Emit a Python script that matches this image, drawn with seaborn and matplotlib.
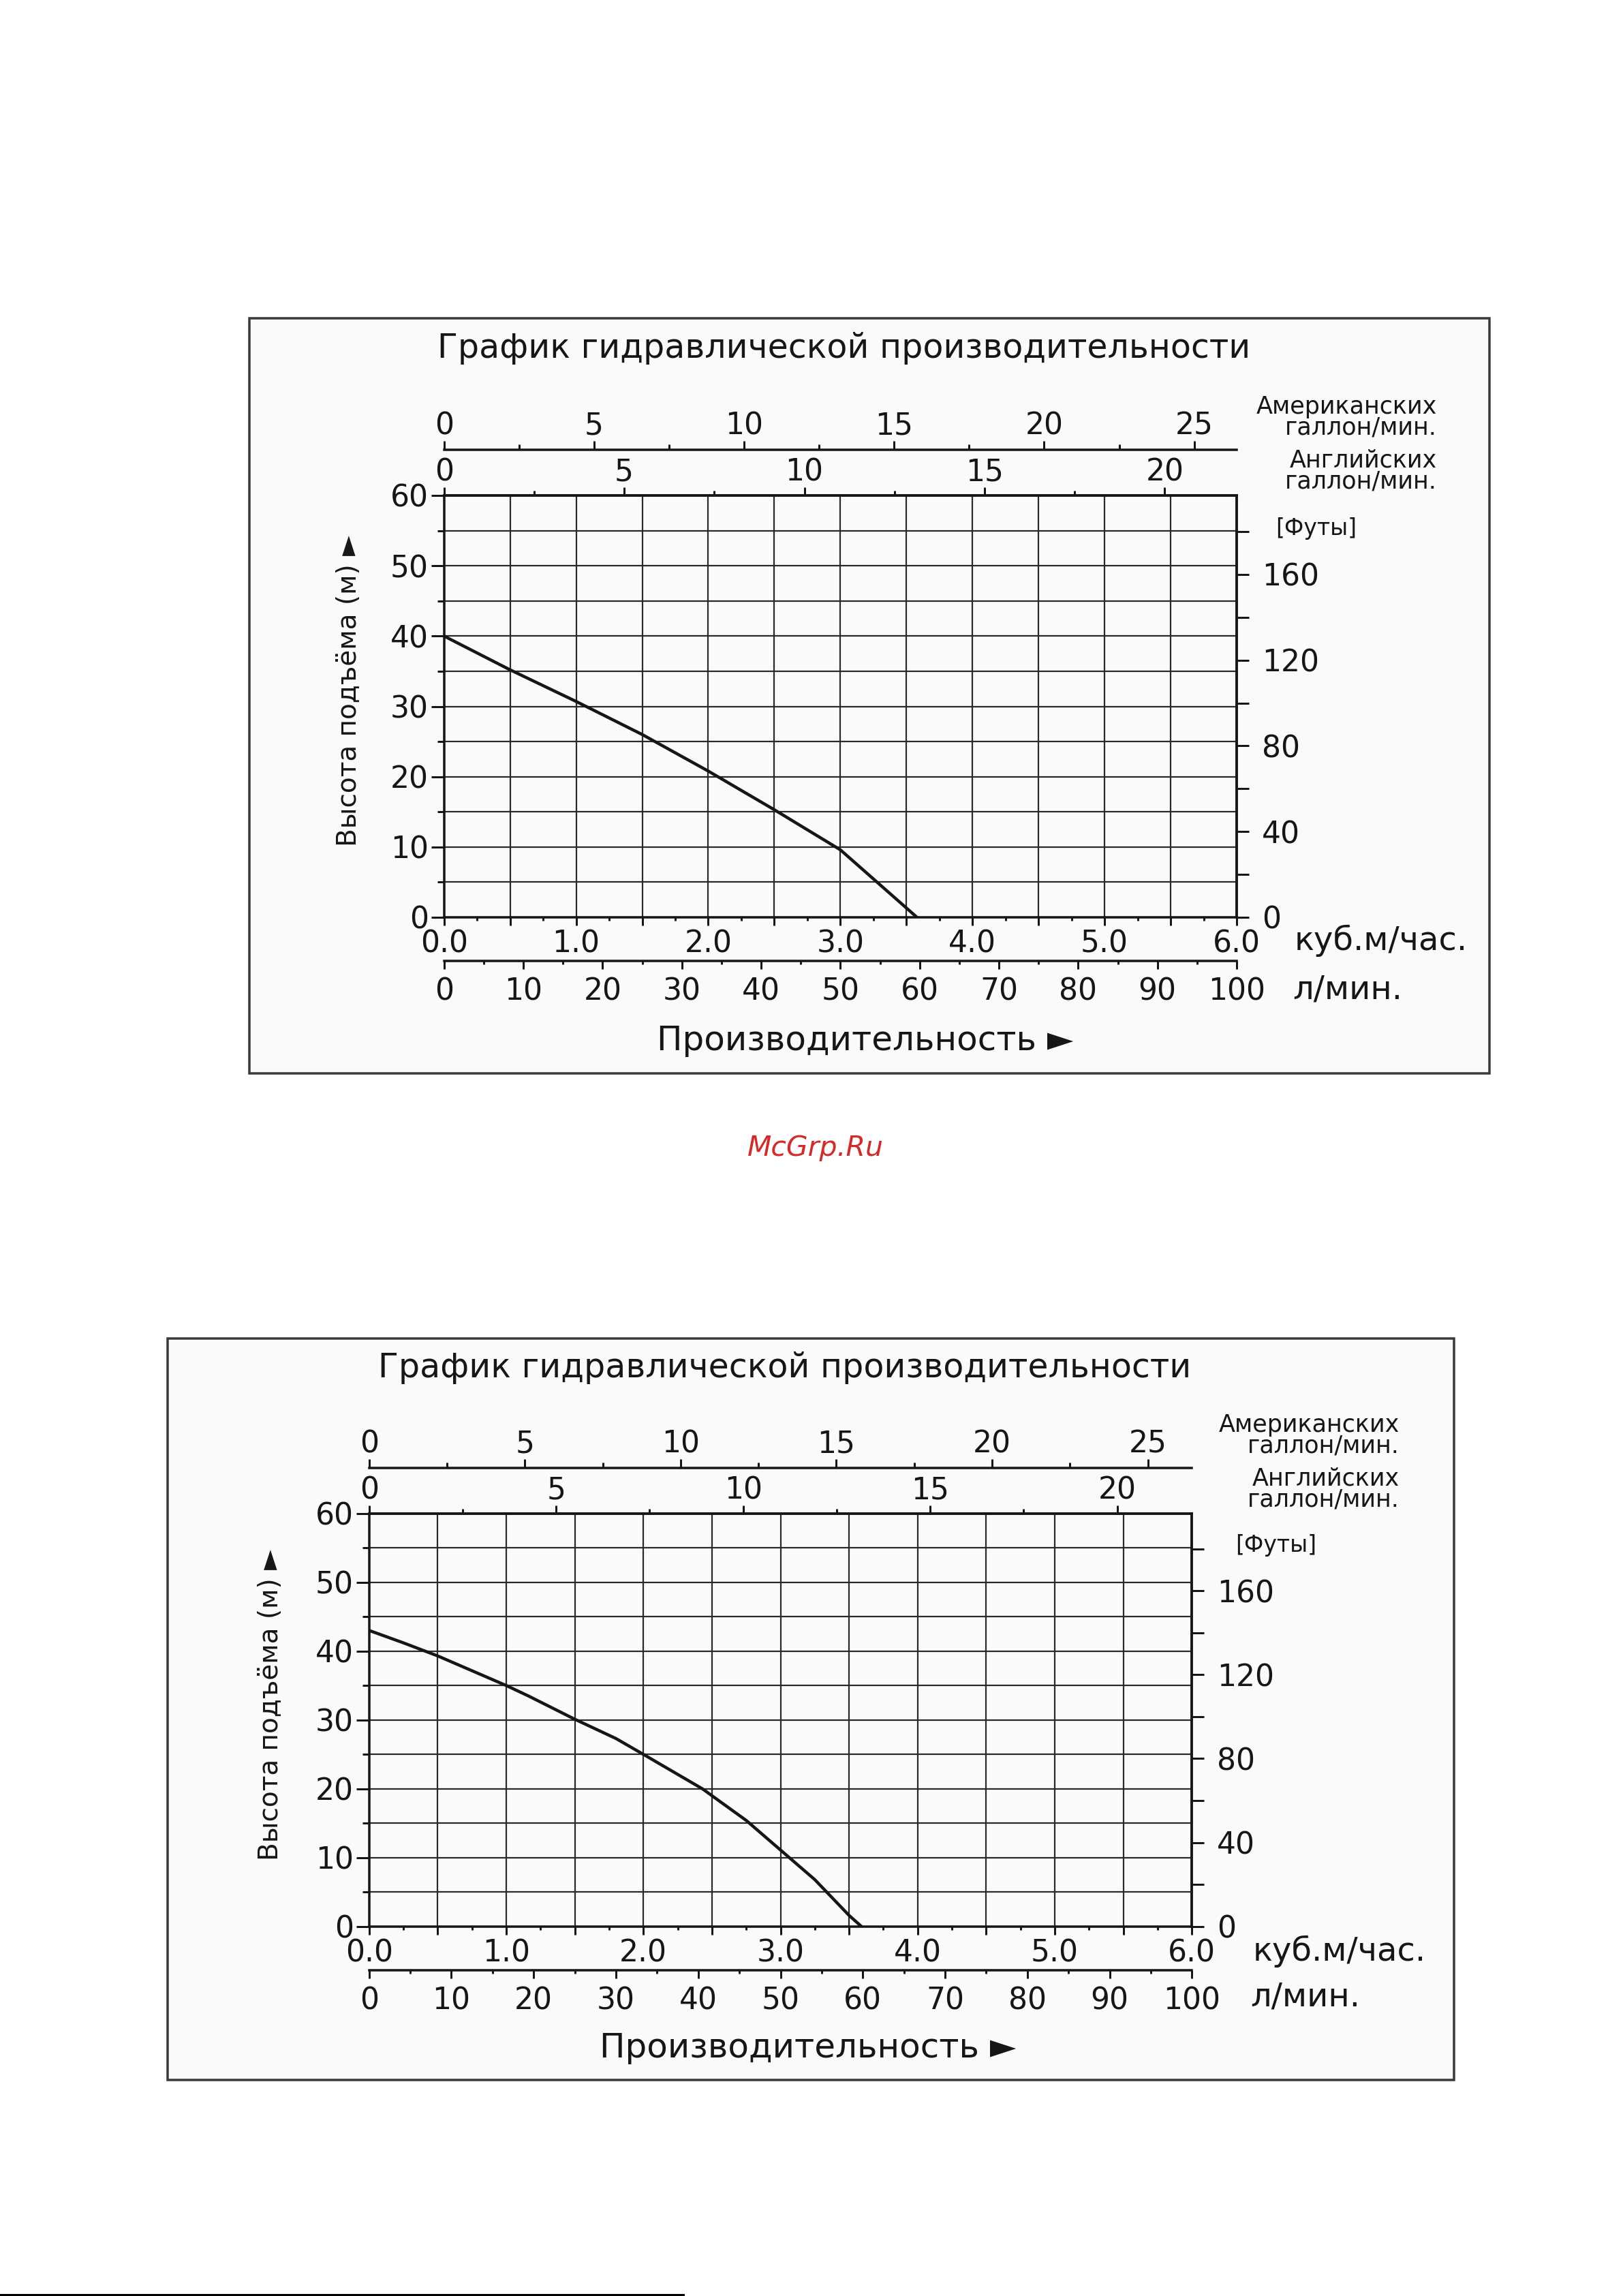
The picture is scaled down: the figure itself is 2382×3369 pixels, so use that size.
import matplotlib
matplotlib.use("Agg")
import matplotlib.pyplot as plt
import matplotlib.ticker as mticker
from matplotlib.patches import Rectangle
from matplotlib.lines import Line2D
import pandas as pd
import seaborn as sns

# --- values (flow in m3/h, head in m) ---
flow_1 = [0.0, 0.5, 1.0, 1.5, 2.0, 2.5, 3.0, 3.58]
head_1 = [40.0, 35.2, 30.7, 26.0, 20.8, 15.3, 9.6, 0.0]

flow_2 = [0.0, 0.25, 0.5, 1.0, 1.16, 1.5, 1.8, 2.0, 2.43, 2.75, 3.0, 3.25, 3.5, 3.59]
head_2 = [43.0, 41.2, 39.3, 35.0, 33.5, 30.1, 27.3, 25.0, 20.0, 15.4, 11.1, 6.8, 1.6, 0.0]

feet_ticks = [0, 20, 40, 60, 80, 100, 120, 140, 160, 180]
feet_labels = ["0", "", "40", "", "80", "", "120", "", "160", ""]

title_txt = "График гидравлической производительности"
ylabel_txt = "Высота подъёма (м) ►"
xlabel_txt = "Производительность ►"
us_txt = "Американских\nгаллон/мин."
imp_txt = "Английских\nгаллон/мин."
feet_txt = "[Футы]"
m3h_txt = "куб.м/час."
lmin_txt = "л/мин."
watermark = "McGrp.Ru"

# unit conversions from m3/h
TO_LMIN = 1000.0 / 60.0
TO_USGPM = 4.40287
TO_IMPGPM = 3.66614
M_TO_FT = 1 / 0.3048

W, H, DPI = 2382, 3369, 72
INK = "#161616"
GRID = "#2a2a2a"
BG = "#fbfaf8"
TICK = 44

plt.rcParams["font.family"] = ["DejaVu Sans"]

layouts = [
    dict(box=(366, 467, 2186, 1575), plot=(651.7, 727, 1815, 1346), title=(1239, 511),
         unit_right=2109, us_y=612, imp_y=691, feet=(1932, 776),
         m3h=(1900, 1380), lmin=(1897, 1452), ylab=(512, 1014), xlab=(1270, 1527)),
    dict(box=(246, 1964, 2134, 3052), plot=(541.7, 2220.7, 1749.3, 2826.7), title=(1152, 2007),
         unit_right=2054, us_y=2106, imp_y=2185, feet=(1873, 2268),
         m3h=(1839, 2863), lmin=(1835, 2930), ylab=(397, 2502), xlab=(1186, 3005)),
]


def fx(x):
    return x / W


def fy(y):
    return 1 - y / H


def label(fig, x, y, s, size, **kw):
    fig.text(fx(x), fy(y), s, fontsize=size, color=INK, **kw)


def draw_chart(fig, lay, flow, head):
    bl, bt, br, bb = lay["box"]
    fig.add_artist(Rectangle((fx(bl), fy(bb)), fx(br) - fx(bl), fy(bt) - fy(bb),
                             transform=fig.transFigure, facecolor=BG,
                             edgecolor="#3a3a3a", lw=3.5, zorder=-1))
    pl, pt, pr, pb = lay["plot"]
    ax = fig.add_axes([fx(pl), fy(pb), fx(pr) - fx(pl), fy(pt) - fy(pb)])
    h = pb - pt

    df = pd.DataFrame({"flow": flow, "head": head})
    sns.lineplot(data=df, x="flow", y="head", ax=ax, color=INK, lw=4.5,
                 sort=False, estimator=None, legend=False)
    ax.set_xlim(0, 6)
    ax.set_ylim(0, 60)
    ax.set_xlabel("")
    ax.set_ylabel("")
    ax.set_facecolor(BG)
    for s in ax.spines.values():
        s.set_linewidth(3.5)
        s.set_color(INK)

    ax.xaxis.set_major_locator(mticker.MultipleLocator(0.5))
    ax.xaxis.set_minor_locator(mticker.MultipleLocator(0.25))
    ax.xaxis.set_major_formatter(mticker.FuncFormatter(
        lambda v, p: f"{v:.1f}" if abs(v - round(v)) < 1e-6 else ""))
    ax.yaxis.set_major_locator(mticker.MultipleLocator(10))
    ax.yaxis.set_minor_locator(mticker.MultipleLocator(5))
    ax.yaxis.set_major_formatter(mticker.FuncFormatter(lambda v, p: f"{v:g}"))

    ax.tick_params(axis="x", which="major", bottom=True, top=False, length=12, width=3,
                   pad=6, labelsize=TICK, direction="out", colors=INK)
    ax.tick_params(axis="x", which="minor", bottom=True, top=False, length=5, width=3,
                   direction="out", colors=INK)
    ax.tick_params(axis="y", which="major", left=True, right=False, length=19, width=3,
                   pad=4, labelsize=TICK, direction="out", colors=INK)
    ax.tick_params(axis="y", which="minor", left=True, right=False, length=10, width=3,
                   direction="out", colors=INK)

    ax.grid(True, which="major", axis="x", color=GRID, lw=2.2)
    ax.grid(True, which="both", axis="y", color=GRID, lw=2.2)
    ax.set_axisbelow(True)

    # litres per minute, below the cubic metre scale
    lm = ax.secondary_xaxis(-64 / h, functions=(lambda x: x * TO_LMIN, lambda v: v / TO_LMIN))
    lm.xaxis.set_major_locator(mticker.MultipleLocator(10))
    lm.xaxis.set_minor_locator(mticker.MultipleLocator(5))
    lm.xaxis.set_major_formatter(mticker.FuncFormatter(lambda v, p: f"{v:g}"))
    lm.tick_params(which="major", length=12, width=3, pad=12, labelsize=TICK,
                   direction="out", colors=INK)
    lm.tick_params(which="minor", length=5, width=3, direction="out", colors=INK)

    # imperial gallons on the top spine
    imp = ax.secondary_xaxis("top", functions=(lambda x: x * TO_IMPGPM, lambda v: v / TO_IMPGPM))
    imp.xaxis.set_major_locator(mticker.MultipleLocator(5))
    imp.xaxis.set_minor_locator(mticker.MultipleLocator(2.5))
    imp.xaxis.set_major_formatter(mticker.FuncFormatter(lambda v, p: f"{v:g}"))
    imp.tick_params(which="major", length=12, width=3, pad=0.5, labelsize=TICK,
                    direction="out", colors=INK)
    imp.tick_params(which="minor", length=7, width=3, direction="out", colors=INK)

    # US gallons, above
    us = ax.secondary_xaxis(1 + 67 / h, functions=(lambda x: x * TO_USGPM, lambda v: v / TO_USGPM))
    us.xaxis.set_major_locator(mticker.MultipleLocator(5))
    us.xaxis.set_minor_locator(mticker.MultipleLocator(2.5))
    us.xaxis.set_major_formatter(mticker.FuncFormatter(lambda v, p: f"{v:g}"))
    us.tick_params(which="major", length=13, width=3, pad=0, labelsize=TICK,
                   direction="out", colors=INK)
    us.tick_params(which="minor", length=8, width=3, direction="out", colors=INK)

    # feet on the right
    ft = ax.secondary_yaxis("right", functions=(lambda m: m * M_TO_FT, lambda f: f / M_TO_FT))
    ft.yaxis.set_major_locator(mticker.FixedLocator(feet_ticks))
    ft.yaxis.set_major_formatter(mticker.FixedFormatter(feet_labels))
    ft.tick_params(length=18, width=3, pad=19, labelsize=TICK, direction="out", colors=INK)

    for sec in (lm, imp, us, ft):
        for s in sec.spines.values():
            s.set_linewidth(3.5)
            s.set_color(INK)

    # texts
    label(fig, *lay["title"], title_txt, 49, ha="center", va="center")
    label(fig, lay["unit_right"], lay["us_y"], us_txt, 35, ha="right", va="center",
          multialignment="right", linespacing=0.88)
    label(fig, lay["unit_right"], lay["imp_y"], imp_txt, 35, ha="right", va="center",
          multialignment="right", linespacing=0.88)
    label(fig, *lay["feet"], feet_txt, 33, ha="center", va="center")
    label(fig, *lay["m3h"], m3h_txt, 48, ha="left", va="center")
    label(fig, *lay["lmin"], lmin_txt, 48, ha="left", va="center")
    label(fig, *lay["ylab"], ylabel_txt, 39, ha="center", va="center", rotation=90)
    label(fig, *lay["xlab"], xlabel_txt, 50, ha="center", va="center")


fig = plt.figure(figsize=(W / DPI, H / DPI), dpi=DPI)
fig.patch.set_facecolor("white")

draw_chart(fig, layouts[0], flow_1, head_1)
draw_chart(fig, layouts[1], flow_2, head_2)

fig.text(fx(1197), fy(1685), watermark, fontsize=41, color="#d42a2a",
         style="italic", ha="center", va="center")
fig.add_artist(Line2D([0, fx(1003)], [fy(3367), fy(3367)], transform=fig.transFigure,
                      color="black", lw=3))

fig.savefig("out.png", dpi=DPI)
